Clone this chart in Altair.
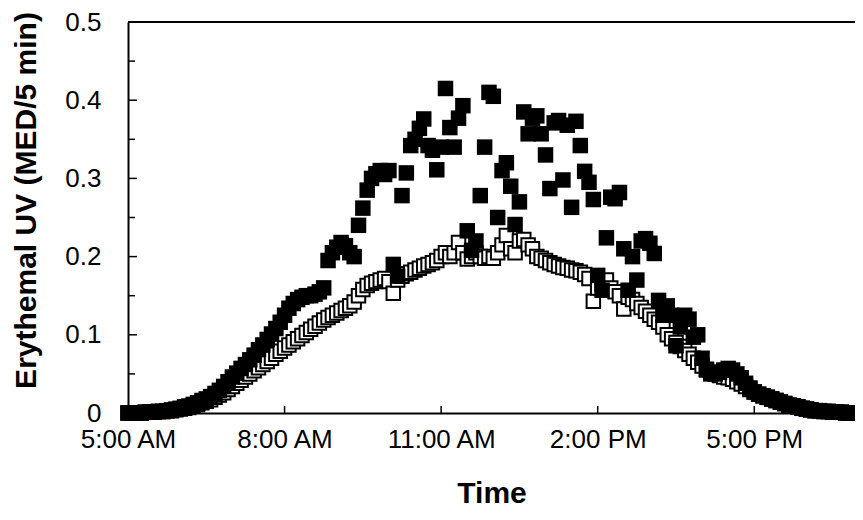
import altair as alt
import pandas as pd

# Erythemal UV, 5-minute samples starting at 5:00 AM
filled_uv = [
    0.000, 0.000, 0.000, 0.000, 0.001, 0.001, 0.001, 0.002, 0.002, 0.003, 0.004, 0.005, 0.006,
    0.008, 0.009, 0.011, 0.013, 0.016, 0.018, 0.021, 0.025, 0.029, 0.034, 0.040, 0.046,
    0.051, 0.057, 0.062, 0.068, 0.074, 0.081, 0.087, 0.094, 0.101, 0.108, 0.116, 0.125,
    0.134, 0.140, 0.145, 0.148, 0.150, 0.150, 0.152, 0.155, 0.160, 0.195, 0.205, 0.212,
    0.218, 0.214, 0.205, 0.200, 0.240, 0.262, 0.285, 0.300, 0.306, 0.310, 0.305, 0.310,
    0.190, 0.175, 0.278, 0.307, 0.342, 0.350, 0.364, 0.376, 0.342, 0.336, 0.311, 0.340,
    0.415, 0.365, 0.340, 0.377, 0.393, 0.233, 0.208, 0.220, 0.278, 0.340, 0.410, 0.405,
    0.250, 0.310, 0.320, 0.290, 0.241, 0.270, 0.385, 0.357, 0.377, 0.380, 0.357, 0.330,
    0.287, 0.371, 0.374, 0.298, 0.368, 0.263, 0.373, 0.342, 0.309, 0.295, 0.273, 0.176,
    0.157, 0.224, 0.276, 0.274, 0.282, 0.210, 0.157, 0.200, 0.170, 0.220, 0.223, 0.217,
    0.204, 0.144, 0.125, 0.137, 0.125, 0.086, 0.110, 0.125, 0.120, 0.097, 0.100, 0.070,
    0.055, 0.050, 0.050, 0.052, 0.055, 0.057, 0.055, 0.050, 0.045, 0.038, 0.032, 0.027,
    0.024, 0.022, 0.020, 0.018, 0.016, 0.014, 0.012, 0.010, 0.009, 0.008, 0.006, 0.005,
    0.004, 0.003, 0.003, 0.002, 0.002, 0.001, 0.001, 0.001, 0.000, 0.000, 0.000, 0.000, 0.000,
]

open_uv = [
    0.000, 0.000, 0.000, 0.000, 0.001, 0.001, 0.001, 0.002, 0.002, 0.003, 0.003, 0.004, 0.005,
    0.006, 0.007, 0.009, 0.011, 0.013, 0.015, 0.017, 0.020, 0.023, 0.026, 0.030, 0.034,
    0.038, 0.042, 0.046, 0.050, 0.054, 0.058, 0.062, 0.066, 0.070, 0.075, 0.079, 0.083,
    0.087, 0.091, 0.095, 0.099, 0.103, 0.107, 0.111, 0.115, 0.119, 0.122, 0.125, 0.128,
    0.131, 0.134, 0.137, 0.142, 0.150, 0.158, 0.163, 0.166, 0.168, 0.170, 0.172, 0.168,
    0.153, 0.170, 0.175, 0.178, 0.180, 0.183, 0.185, 0.188, 0.190, 0.192, 0.195, 0.200,
    0.205, 0.200, 0.205, 0.218, 0.205, 0.197, 0.200, 0.205, 0.200, 0.198, 0.200, 0.198,
    0.205, 0.215, 0.227, 0.210, 0.205, 0.220, 0.222, 0.215, 0.210, 0.200, 0.198, 0.195,
    0.192, 0.190, 0.188, 0.186, 0.185, 0.183, 0.182, 0.180, 0.177, 0.172, 0.143, 0.160,
    0.165, 0.170, 0.160, 0.155, 0.150, 0.133, 0.148, 0.145, 0.140, 0.135, 0.130, 0.125,
    0.120, 0.116, 0.110, 0.100, 0.095, 0.090, 0.085, 0.080, 0.075, 0.070, 0.065, 0.060,
    0.056, 0.052, 0.050, 0.048, 0.046, 0.045, 0.043, 0.040, 0.037, 0.034, 0.030, 0.027,
    0.024, 0.022, 0.020, 0.018, 0.016, 0.014, 0.012, 0.010, 0.009, 0.008, 0.006, 0.005,
    0.004, 0.003, 0.003, 0.002, 0.002, 0.001, 0.001, 0.001, 0.000, 0.000, 0.000, 0.000, 0.000,
]

x_tick_hours = [5, 8, 11, 14, 17]
x_tick_labels = ["5:00 AM", "8:00 AM", "11:00 AM", "2:00 PM", "5:00 PM"]
x_inner_ticks = [8, 11, 14, 17]
y_major = [0, 0.1, 0.2, 0.3, 0.4, 0.5]
y_minor = [0.05, 0.15, 0.25, 0.35, 0.45]
x_domain = [5, 18.93]  # visible part of the time axis (hours)

hours = [5 + 5 * i / 60 for i in range(len(filled_uv))]
df = pd.DataFrame({"hour": hours, "filled": filled_uv, "open": open_uv})

W, H = 727, 391
FONT = "Liberation Sans, Arial, sans-serif"

xscale = alt.Scale(domain=x_domain, nice=False, zero=False)
yscale = alt.Scale(domain=[0, 0.5], nice=False, zero=True)

label_expr = ""
for h, lab in zip(x_tick_hours, x_tick_labels):
    label_expr += f"datum.value == {h} ? '{lab}' : "
label_expr += "''"

x_axis = alt.Axis(
    values=x_tick_hours, labelExpr=label_expr, ticks=False, tickSize=0, grid=False,
    domainColor="black", domainWidth=2, labelFont=FONT, labelFontSize=26,
    labelColor="black", labelPadding=13, labelFlush=False, labelOverlap=False,
    title="Time", titleFont=FONT, titleFontSize=30, titleFontWeight="bold",
    titleColor="black", titleBaseline="alphabetic", titleY=89,
)
y_axis = alt.Axis(
    values=y_major, format=".1~f", ticks=False, tickSize=0, grid=False,
    domainColor="black", domainWidth=2, labelFont=FONT, labelFontSize=26,
    labelColor="black", labelPadding=27, labelFlush=False, labelOverlap=False,
    title="Erythemal UV (MED/5 min)", titleFont=FONT, titleFontSize=30,
    titleFontWeight="bold", titleColor="black", titleAngle=-90,
    titleBaseline="alphabetic", titleX=-93, titleY=178, titleAnchor="middle",
)


def X(field):
    return alt.X(field, scale=xscale, axis=x_axis)


def Y(field):
    return alt.Y(field, scale=yscale, axis=y_axis)


open_layer = alt.Chart(df).mark_square(
    size=182, filled=True, fill="white", stroke="black", strokeWidth=2, opacity=1, clip=False
).encode(x=X("hour:Q"), y=Y("open:Q"))

filled_layer = alt.Chart(df).mark_square(
    size=240, filled=True, color="black", opacity=1, clip=False
).encode(x=X("hour:Q"), y=Y("filled:Q"))

top_border = alt.Chart(pd.DataFrame({"v": [y_major[-1]]})).mark_rule(
    color="black", strokeWidth=2
).encode(y=Y("v:Q"))

y_major_ticks = alt.Chart(pd.DataFrame({"v": y_major[1:-1]})).mark_rule(
    color="black", strokeWidth=1.5
).encode(y=Y("v:Q"), x=alt.value(0), x2=alt.value(9))

y_minor_ticks = alt.Chart(pd.DataFrame({"v": y_minor})).mark_rule(
    color="black", strokeWidth=1.5
).encode(y=Y("v:Q"), x=alt.value(0), x2=alt.value(7))

x_ticks = alt.Chart(pd.DataFrame({"h": x_inner_ticks})).mark_rule(
    color="black", strokeWidth=1.5
).encode(x=X("h:Q"), y=alt.value(H), y2=alt.value(H - 7))

chart = alt.layer(
    top_border, y_major_ticks, y_minor_ticks, x_ticks, open_layer, filled_layer
).properties(
    width=W, height=H,
    autosize=alt.AutoSizeParams(type="none"),
    padding={"left": 120, "top": 14, "right": 0, "bottom": 95},
    background="white",
).configure_view(stroke=None)

chart.save("out.html", embed_options={"renderer": "svg", "actions": False})
